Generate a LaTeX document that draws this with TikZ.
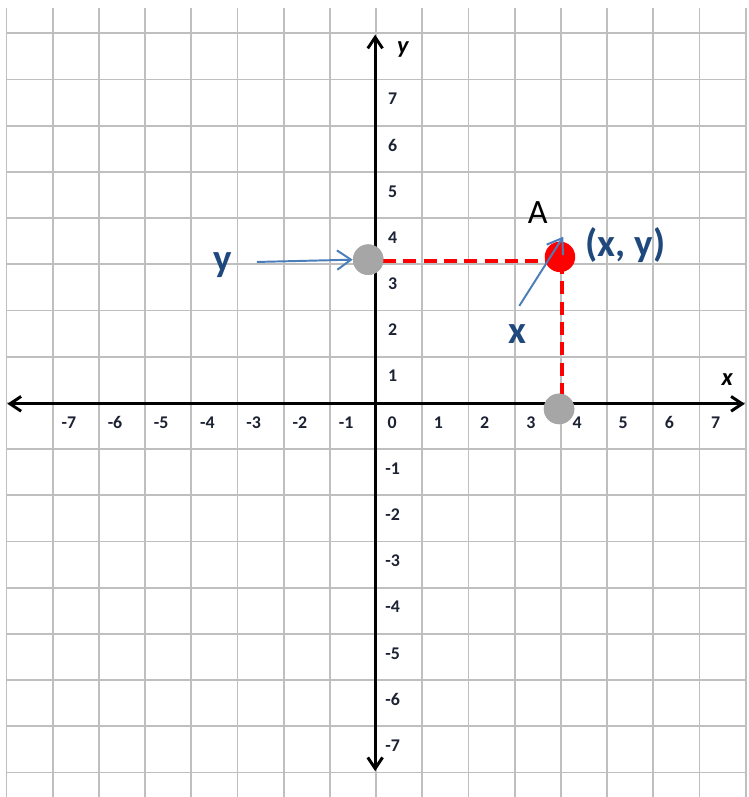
\documentclass[tikz,border=0pt]{standalone}
\usepackage{fontspec}
\setmainfont{Carlito}
\usetikzlibrary{arrows.meta,positioning}
\definecolor{gridGray}{HTML}{BFBFBF}
\definecolor{dotGray}{HTML}{A6A6A6}
\definecolor{dotRed}{HTML}{FF0000}
\definecolor{labelBlue}{HTML}{1F497D}
\definecolor{pointerBlue}{HTML}{4A7EBB}
\definecolor{tickInk}{HTML}{1C2233}

\begin{document}
\begin{tikzpicture}[
        gridline/.style={draw=gridGray, line width=1.1pt},
        axis/.style={-{Straight Barb[length=2.4mm,width=3.2mm]}, line width=1.8pt, draw=black},
        tick/.style={font=\fontsize{11}{13}\selectfont\bfseries, text=tickInk, inner sep=0pt},
        axislabel/.style={font=\fontsize{15}{18}\selectfont\bfseries\itshape, inner sep=0pt},
        dot/.style={circle, inner sep=0pt, minimum size=0.66cm},
        guide/.style={draw=dotRed, line width=2.4pt, dash pattern=on 8pt off 4.5pt},
        pointer/.style={-{Straight Barb[length=3mm,width=4.2mm]}, line width=1.2pt, draw=pointerBlue},
        callout/.style={font=\fontsize{24}{28}\selectfont\bfseries, text=labelBlue, inner sep=0pt}
      ]
        \useasboundingbox[fill=white] (-8.14,-8.53) rectangle (8.05,8.72);
        % grid
        \draw[gridline, step=1] (-8,-8.53) grid (8,8.55);
        % axes
        \draw[axis] (0,-0.02) -- (7.98,-0.02);
        \draw[axis] (0,-0.02) -- (-7.98,-0.02);
        \draw[axis] (-0.02,0) -- (-0.02,7.97);
        \draw[axis] (-0.02,0) -- (-0.02,-7.97);
        \node[axislabel] (xaxis) at (7.6,0.5) {x};
        \node[axislabel] (yaxis) at (0.58,7.64) {y};
        % tick numbers
        \node[tick] (o) at (0.35,-0.42) {0};
        \foreach \n in {-7,...,-1,1,2,...,7} {
          \node[tick] (tx\n) at (\n+0.35,-0.42) {\n};
          \node[tick] (ty\n) at (0.36,\n-0.42) {\n};
        }
        % projections of A
        \node[dot, fill=dotGray] (ygray) at (-0.17,3.1) {};
        \node[dot, fill=dotGray] (xgray) at (3.96,-0.13) {};
        \node[dot] (a) at (3.98,3.16) {};
        \draw[guide] (0.15,3.07) -- (3.98,3.07);
        \draw[guide] (4.03,3.07) -- (4.03,-0.13);
        \node[dot, fill=dotGray] at (xgray) {};
        \node[dot, fill=dotRed] at (a) {};
        \node[dot, fill=dotGray] at (ygray) {};
        % labels
        \node[font=\fontsize{21}{24}\selectfont, inner sep=0pt] (alab) at (3.5,4.12) {A};
        \node[callout] (pair) at (5.4,3.42) {(x, y)};
        \node[callout] (ylab) at (-3.31,2.98) {y};
        \node[callout] (xlab) at (3.05,1.5) {x};
        \coordinate (ystart) at (-2.58,3.05);
        \coordinate (xstart) at (3.1,2.1);
        \draw[pointer] (ystart) -- (ygray.west);
        \draw[pointer] (xstart) -- ([shift={(0.07,0.1)}]a.north);
      \end{tikzpicture}
\end{document}
